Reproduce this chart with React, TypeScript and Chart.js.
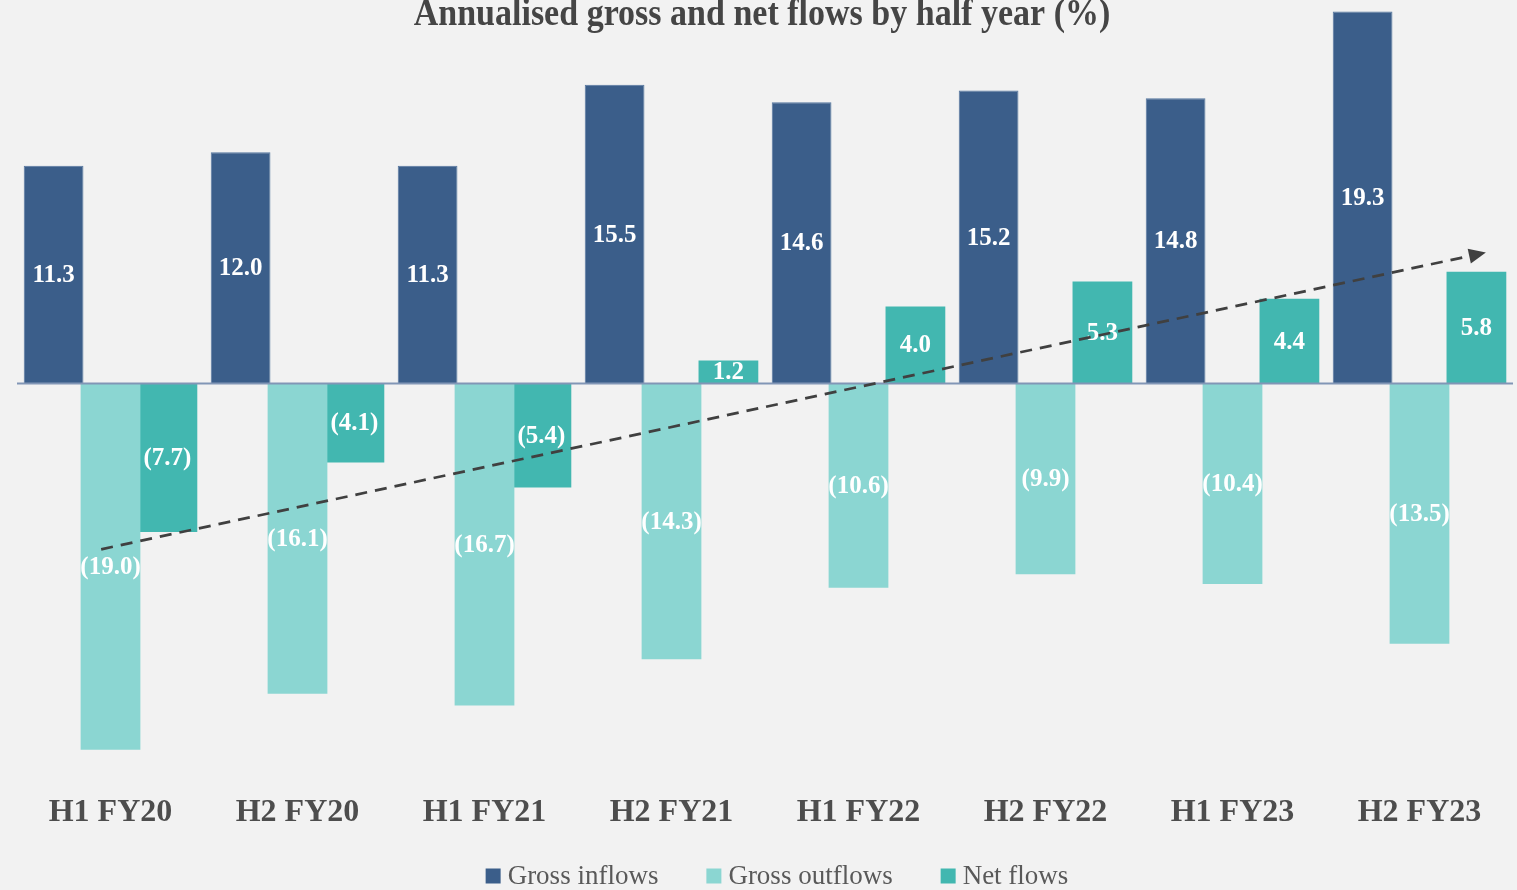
import React, { useEffect, useRef } from "react";
import { Chart, registerables } from "chart.js";

Chart.register(...registerables);

const chartTitle = "Annualised gross and net flows by half year (%)";
const categories = ["H1 FY20", "H2 FY20", "H1 FY21", "H2 FY21", "H1 FY22", "H2 FY22", "H1 FY23", "H2 FY23"];
const seriesNames = ["Gross inflows", "Gross outflows", "Net flows"];
const grossInflows = [11.3, 12.0, 11.3, 15.5, 14.6, 15.2, 14.8, 19.3];
const grossOutflows = [-19.0, -16.1, -16.7, -14.3, -10.6, -9.9, -10.4, -13.5];
const netFlows = [-7.7, -4.1, -5.4, 1.2, 4.0, 5.3, 4.4, 5.8];
// trend arrow in data coordinates (category index, value)
const trendStart = { x: -0.05, y: -8.6 };
const trendEnd = { x: 7.355, y: 6.8 };
const yMin = -20;
const yMax = 19.9;

const COLORS = ["#3b5e8a", "#8bd6d2", "#42b7b0"];
const BG = "#f2f2f2";
const SERIF = "'Liberation Serif', 'Times New Roman', serif";

const fmt = (v: number) => (v < 0 ? `(${Math.abs(v).toFixed(1)})` : v.toFixed(1));

const customPlugin = {
  id: "custom",
  beforeDraw(chart: any) {
    const { ctx, width, height } = chart;
    ctx.save();
    ctx.fillStyle = BG;
    ctx.fillRect(0, 0, width, height);
    ctx.restore();
  },
  afterDatasetsDraw(chart: any) {
    const { ctx, chartArea, scales } = chart;
    const y0 = scales.y.getPixelForValue(0);
    ctx.save();
    ctx.strokeStyle = "#8196b6";
    ctx.lineWidth = 2;
    ctx.beginPath();
    ctx.moveTo(chartArea.left, y0);
    ctx.lineTo(chartArea.right, y0);
    ctx.stroke();

    ctx.fillStyle = "#ffffff";
    ctx.font = `bold 25px ${SERIF}`;
    ctx.textAlign = "center";
    ctx.textBaseline = "middle";
    chart.data.datasets.forEach((ds: any, i: number) => {
      const meta = chart.getDatasetMeta(i);
      meta.data.forEach((el: any, j: number) => {
        const v = ds.data[j];
        const cy = (el.y + el.base) / 2;
        ctx.fillText(fmt(v), el.x, cy + 1);
      });
    });
    ctx.restore();
  },
  afterDraw(chart: any) {
    const { ctx, scales } = chart;
    // trend arrow
    const x1 = scales.x.getPixelForValue(trendStart.x);
    const y1 = scales.y.getPixelForValue(trendStart.y);
    const x2 = scales.x.getPixelForValue(trendEnd.x);
    const y2 = scales.y.getPixelForValue(trendEnd.y);
    const ang = Math.atan2(y2 - y1, x2 - x1);
    const headLen = 17;
    const headHalf = 7.5;
    const bx = x2 - headLen * Math.cos(ang);
    const by = y2 - headLen * Math.sin(ang);
    ctx.save();
    ctx.strokeStyle = "#404040";
    ctx.fillStyle = "#404040";
    ctx.lineWidth = 2.75;
    ctx.setLineDash([12, 8]);
    ctx.beginPath();
    ctx.moveTo(x1, y1);
    ctx.lineTo(bx, by);
    ctx.stroke();
    ctx.setLineDash([]);
    ctx.beginPath();
    ctx.moveTo(x2, y2);
    ctx.lineTo(bx + headHalf * Math.sin(ang), by - headHalf * Math.cos(ang));
    ctx.lineTo(bx - headHalf * Math.sin(ang), by + headHalf * Math.cos(ang));
    ctx.closePath();
    ctx.fill();
    ctx.restore();

    // title (slightly condensed, top clipped like the reference)
    ctx.save();
    ctx.fillStyle = "#454545";
    ctx.font = `bold 38px ${SERIF}`;
    ctx.textAlign = "center";
    ctx.textBaseline = "alphabetic";
    ctx.translate(762, 25);
    ctx.scale(0.895, 1);
    ctx.fillText(chartTitle, 0, 0);
    ctx.restore();

    // legend
    ctx.save();
    ctx.font = `27px ${SERIF}`;
    ctx.textBaseline = "middle";
    ctx.textAlign = "left";
    const box = 15;
    const gapText = 7;
    const gapItem = 48;
    const widths = seriesNames.map((n) => ctx.measureText(n).width);
    const total = widths.reduce((a, w) => a + box + gapText + w, 0) + gapItem * (seriesNames.length - 1);
    let x = 777 - total / 2;
    const cy = 876;
    seriesNames.forEach((n, i) => {
      ctx.fillStyle = COLORS[i];
      ctx.fillRect(x, cy - box / 2, box, box);
      ctx.fillStyle = "#595959";
      ctx.fillText(n, x + box + gapText, cy + 1);
      x += box + gapText + widths[i] + gapItem;
    });
    ctx.restore();
  },
};

function App() {
  const canvasRef = useRef<HTMLCanvasElement | null>(null);

  useEffect(() => {
    document.body.style.background = BG;
    const canvas = canvasRef.current;
    if (!canvas) return;
    const datasetsValues = [grossInflows, grossOutflows, netFlows];
    const chart = new Chart(canvas, {
      type: "bar",
      data: {
        labels: categories,
        datasets: datasetsValues.map((vals, i) => ({
          label: seriesNames[i],
          data: vals,
          backgroundColor: COLORS[i],
          borderColor: i === 0 ? "#56779f" : COLORS[i],
          borderWidth: i === 0 ? 1 : 0,
          categoryPercentage: 0.913,
          barPercentage: 1.05,
        })),
      },
      options: {
        animation: false,
        responsive: true,
        maintainAspectRatio: false,
        layout: { padding: { left: 17, right: 4, top: 0, bottom: 0 } },
        plugins: {
          legend: { display: false },
          title: { display: false },
          tooltip: { enabled: false },
        },
        scales: {
          x: {
            grid: { display: false },
            border: { display: false },
            ticks: {
              color: "#4d4d4d",
              font: { family: SERIF, size: 32, weight: "bold" },
              padding: 17,
              maxRotation: 0,
            },
            afterFit(scale: any) {
              scale.height = 121;
            },
          },
          y: {
            display: false,
            min: yMin,
            max: yMax,
          },
        },
      },
      plugins: [customPlugin],
    } as any);
    return () => chart.destroy();
  }, []);

  return (
    <div style={{ position: "fixed", left: 0, top: 0, width: 1517, height: 890, background: BG }}>
      <canvas ref={canvasRef} />
    </div>
  );
}

export default App;
